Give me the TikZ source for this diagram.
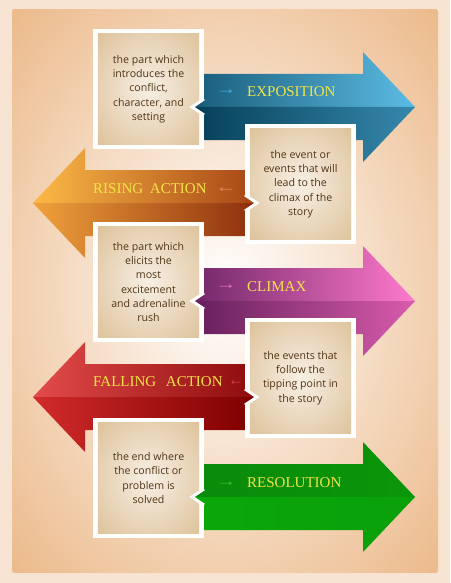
\documentclass[tikz,border=0pt]{standalone}
\usepackage{fontspec}
\setmainfont{Liberation Serif}
\newfontfamily\boxfont{Open Sans}
\newfontfamily\labfont{Liberation Serif}
\definecolor{bgout}{HTML}{F7E3D1}
\definecolor{bgtan}{HTML}{ECBA8B}
\definecolor{beigeC}{HTML}{F7EFE4}
\definecolor{beigeE}{HTML}{DEC39C}
\definecolor{txtbrown}{HTML}{513415}
\definecolor{labyellow}{HTML}{F2E447}
% exposition
\definecolor{eUL}{HTML}{1A5E7C}\definecolor{eUR}{HTML}{5CBCE4}
\definecolor{eLL}{HTML}{06405A}\definecolor{eLR}{HTML}{3688AC}
\definecolor{eG}{HTML}{3FA9DA}
% rising
\definecolor{rUL}{HTML}{FCBA46}\definecolor{rUR}{HTML}{A84616}
\definecolor{rLL}{HTML}{F0A23C}\definecolor{rLR}{HTML}{8E300E}
\definecolor{rG}{HTML}{E48C5C}
% climax
\definecolor{cUL}{HTML}{74286A}\definecolor{cUR}{HTML}{FF7ACC}
\definecolor{cLL}{HTML}{66205C}\definecolor{cLR}{HTML}{D95CAC}
\definecolor{cG}{HTML}{E66BB5}
% falling
\definecolor{fUL}{HTML}{E34B4B}\definecolor{fUR}{HTML}{8E0C0C}
\definecolor{fLL}{HTML}{D22B2B}\definecolor{fLR}{HTML}{7E0000}
\definecolor{fG}{HTML}{DC4040}
% resolution
\definecolor{sUL}{HTML}{0A8A0A}\definecolor{sUR}{HTML}{0A960A}
\definecolor{sLL}{HTML}{0AA70A}\definecolor{sLR}{HTML}{0AA00A}
\definecolor{sG}{HTML}{2EC22E}

\newcommand\RArrowShape[5]{%
  \shade[left color=#2,right color=#3] (196,#1) -- (196,{#1-33}) -- (363,{#1-33}) -- (363,{#1-55}) -- (415,#1) -- cycle;
  \shade[left color=#4,right color=#5] (196,#1) -- (196,{#1+33}) -- (363,{#1+33}) -- (363,{#1+55}) -- (415,#1) -- cycle;}
\newcommand\LArrowShape[5]{%
  \shade[left color=#2,right color=#3] (254,#1) -- (254,{#1-33}) -- (85,{#1-33}) -- (85,{#1-55}) -- (33,#1) -- cycle;
  \shade[left color=#4,right color=#5] (254,#1) -- (254,{#1+33}) -- (85,{#1+33}) -- (85,{#1+55}) -- (33,#1) -- cycle;}
\newcommand\StoryBox[4]{% name, cx, cy, text
  \node[framebox] (#1) at (#2,#3) {};
  \begin{scope}
    \clip ([shift={(5pt,-5pt)}]#1.north west) rectangle ([shift={(-5pt,5pt)}]#1.south east);
    \shade[inner color=beigeC, outer color=beigeE] (#1.center) ellipse [x radius=72, y radius=78];
  \end{scope}
  \node[boxtext] (#1t) at (#2,#3) {#4};}
\newcommand\NotchRight[3]{% notch on right side of a left box
  \fill[#2] (204,{#1-8}) -- (192,#1) -- (204,#1) -- cycle;
  \fill[#3] (204,#1) -- (192,#1) -- (204,{#1+8}) -- cycle;
  \draw[white, line width=3pt] (204,{#1-8}) -- (192,#1) -- (204,{#1+8});}
\newcommand\NotchLeft[3]{% notch on left side of a right box
  \fill[#2] (245,{#1-8}) -- (257,#1) -- (245,#1) -- cycle;
  \fill[#3] (245,#1) -- (257,#1) -- (245,{#1+8}) -- cycle;
  \draw[white, line width=3pt] (245,{#1-8}) -- (257,#1) -- (245,{#1+8});}

\tikzset{
  framebox/.style={fill=white, draw=none, inner sep=0pt, minimum width=111pt, minimum height=120pt},
  boxtext/.style={align=center, text=txtbrown, font=\boxfont\fontsize{10.6}{14.3}\selectfont},
  steplabel/.style={text=labyellow, inner sep=0pt, font=\labfont\fontsize{15}{15}\selectfont},
  glyph/.style={inner sep=0pt, font=\labfont\fontsize{17}{17}\selectfont}
}

\begin{document}
\begin{tikzpicture}[x=1pt,y=-1pt]
\useasboundingbox (0,0) rectangle (450,583);
\fill[bgout] (0,0) rectangle (450,583);
\begin{scope}
  \clip (12,10) rectangle (438,572);
  \shade[inner color=white, outer color=bgtan] (225,291) ellipse [x radius=301, y radius=396];
\end{scope}

% arrows
\RArrowShape{107}{eUL}{eUR}{eLL}{eLR}
\LArrowShape{203}{rUL}{rUR}{rLL}{rLR}
\RArrowShape{301}{cUL}{cUR}{cLL}{cLR}
\LArrowShape{397}{fUL}{fUR}{fLL}{fLR}
\RArrowShape{497}{sUL}{sUR}{sLL}{sLR}

% labels
\node[glyph, text=eG] (g1) at (226,92) {\scalebox{1.25}[1]{→}};
\node[steplabel, anchor=west] (l1) at (247,92) {EXPOSITION};
\node[glyph, text=rG] (g2) at (226,190) {\scalebox{1.25}[1]{←}};
\node[steplabel, anchor=west] (l2) at (93,189) {RISING\hspace{3pt} ACTION};
\node[glyph, text=cG] (g3) at (226,287) {\scalebox{1.25}[1]{→}};
\node[steplabel, anchor=west] (l3) at (247,287) {CLIMAX};
\node[glyph, text=fG] (g4) at (236,383) {\scalebox{0.9}[1]{←}};
\node[steplabel, anchor=west] (l4) at (93,382) {FALLING\hspace{6pt} ACTION};
\node[glyph, text=sG] (g5) at (226,484) {\scalebox{1.25}[1]{→}};
\node[steplabel, anchor=west] (l5) at (247,483) {RESOLUTION};

% boxes
\StoryBox{b1}{148.5}{89}{the part which\\introduces the\\conflict,\\character, and\\setting}
\NotchRight{107}{eUL}{eLL}
\StoryBox{b2}{300.5}{184}{the event or\\events that will\\lead to the\\climax of the\\story}
\NotchLeft{203}{rUR}{rLR}
\StoryBox{b3}{148.5}{282}{the part which\\elicits the\\most\\excitement\\and adrenaline\\rush}
\NotchRight{301}{cUL}{cLL}
\StoryBox{b4}{300.5}{378}{the events that\\follow the\\tipping point in\\the story}
\NotchLeft{397}{fUR}{fLR}
\StoryBox{b5}{148.5}{478}{the end where\\the conflict or\\problem is\\solved}
\NotchRight{497}{sUL}{sLL}
\end{tikzpicture}
\end{document}
